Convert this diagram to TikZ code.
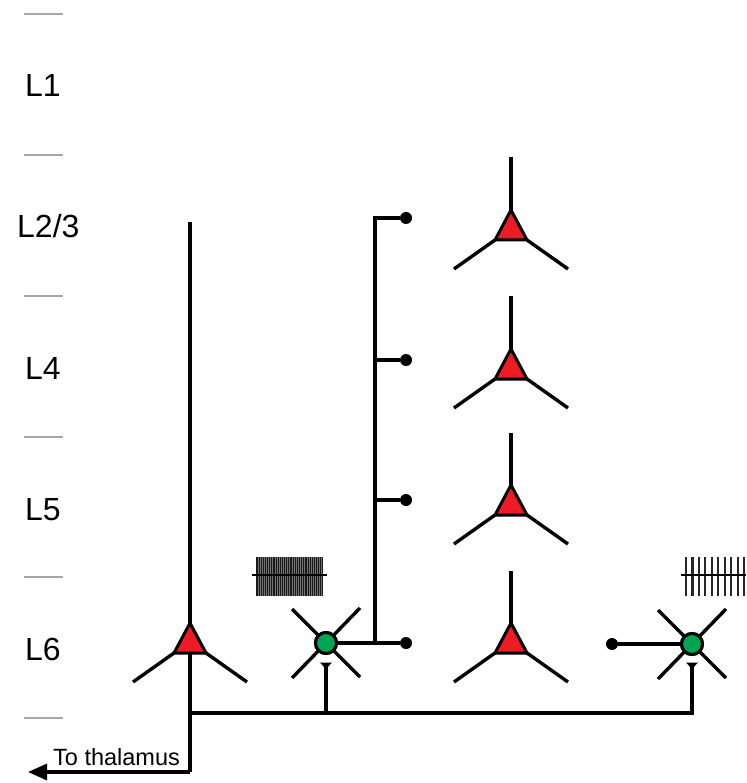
\documentclass[tikz,border=0pt]{standalone}
\usepackage{fontspec}
\setmainfont{Liberation Sans}
\usetikzlibrary{arrows.meta}
\definecolor{pyrred}{HTML}{ED1C24}
\definecolor{ingreen}{HTML}{00A651}
\begin{document}
\begin{tikzpicture}[x=1pt,y=-1pt,
  wire/.style={line width=3.4pt,black},
  sep/.style={line width=1.1pt,gray!70},
  lab/.style={anchor=base west,inner sep=0pt,font=\fontsize{32}{38}\selectfont},
  pyr/.style={fill=pyrred,draw=black,line width=3pt,line join=miter},
  inter/.style={circle,fill=ingreen,draw=black,line width=3pt,minimum size=21pt,inner sep=0pt},
  dot/.style={circle,fill=black,minimum size=12pt,inner sep=0pt},
  syn/.style={fill=black},
  spk/.style={line width=0.9pt,black!90},
  spkr/.style={line width=2.2pt,black!85}]
\useasboundingbox (0,0) rectangle (746,783);
% layer separators
\foreach \y in {14,155,296,437,577,718} \draw[sep] (24,\y) -- (63,\y);
\node[lab] (l1) at (25,97) {L1};
\node[lab] (l23) at (17,238) {L2/3};
\node[lab] (l4) at (25,379) {L4};
\node[lab] (l5) at (25,520) {L5};
\node[lab] (l6) at (25,660) {L6};
% pyramidal neurons
\foreach \nm/\x/\ap/\top in {p1/511/210/157, p2/511/349/296, p3/511/485/433, p4/511/623/571, pl/190/623/222}{
  \coordinate (\nm-apex) at (\x,\ap);
  \coordinate (\nm-bl) at ({\x-16},{\ap+30});
  \coordinate (\nm-br) at ({\x+16},{\ap+30});
  \coordinate (\nm-top) at (\x,\top);
  \coordinate (\nm-dl) at ({\x-57},{\ap+59});
  \coordinate (\nm-dr) at ({\x+57},{\ap+59});
  \draw[wire] (\nm-top) -- (\nm-apex);
  \draw[wire] (\nm-bl) -- (\nm-dl);
  \draw[wire] (\nm-br) -- (\nm-dr);
}
% left pyramidal axon
\coordinate (axb) at (190,772);
\coordinate (axtip) at (28,772);
\coordinate (hj) at (190,713);
\draw[wire] (pl-apex) -- (190,653) -- (axb);
\draw[wire,-{Triangle[length=19pt,width=16pt]}] (axb) -- (axtip);
\node[anchor=base west,inner sep=0pt,font=\fontsize{23.5}{28}\selectfont] (thal) at (53,765) {To thalamus};
% interneurons
\node[inter] (i1) at (326,643) {};
\node[inter] (i2) at (692,644) {};
\foreach \n/\x/\y in {i1/326/643,i2/692/644}{
  \draw[wire] ({\x-34},{\y-34}) -- ({\x+34},{\y+34});
  \draw[wire] ({\x-34},{\y+35}) -- ({\x+34},{\y-35});
}
% synapses onto interneurons
\coordinate (s1) at (326,666);
\coordinate (s2) at (692,666);
\fill[syn] (320,662.5) -- (332,662.5) -- (326,669) -- cycle;
\fill[syn] (686,662.5) -- (698,662.5) -- (692,669) -- cycle;
\draw[wire] (hj) -- (692,713) -- (s2);
\draw[wire] (326,713) -- (s1);
% interneuron 1 axon
\coordinate (vt) at (375,218);
\coordinate (vb) at (375,643);
\node[dot] (d1) at (406,218) {};
\node[dot] (d2) at (406,360) {};
\node[dot] (d3) at (406,500) {};
\node[dot] (d4) at (406,643) {};
\draw[wire] (i1) -- (d4);
\draw[wire] (d1) -- (vt) -- (vb);
\draw[wire] (375,360) -- (d2);
\draw[wire] (375,500) -- (d3);
% interneuron 2 input
\node[dot] (d5) at (612,644) {};
\draw[wire] (d5) -- (i2);
\node[inter] at (i2) {};
\node[inter] at (i1) {};
% pyramidal somata
\foreach \nm in {p1,p2,p3,p4,pl}
  \draw[pyr] (\nm-apex) -- (\nm-br) -- (\nm-bl) -- cycle;
% spike trains
\fill[black!55] (255.5,557) rectangle (322.5,596);
\foreach \i in {0,...,35} \draw[spk] ({256+\i*1.886},557) -- ({256+\i*1.886},596);
\draw[line width=2.2pt] (252,575) -- (327,575);
\foreach \i in {0,...,9} \draw[spkr] ({686+\i*6.45},557) -- ({686+\i*6.45},596);
\draw[line width=2.2pt] (681,575) -- (746,575);
\end{tikzpicture}
\end{document}
